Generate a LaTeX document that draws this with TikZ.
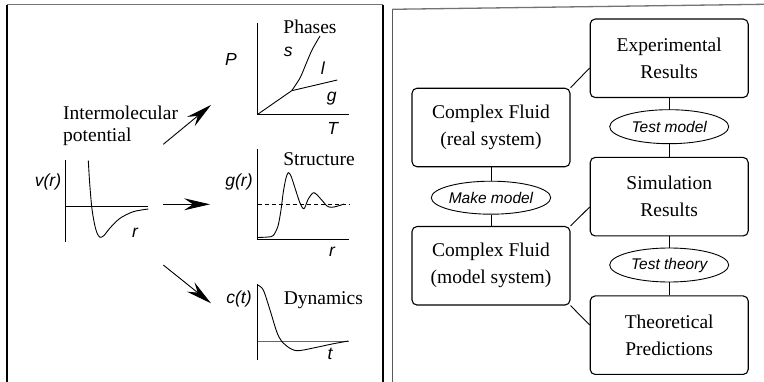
\documentclass[tikz,border=0pt]{standalone}
\usepackage{fontspec}
\setmainfont{Liberation Serif}
\newfontfamily\labfont{Liberation Sans}
\usetikzlibrary{arrows.meta,shapes.geometric}
\begin{document}
\begin{tikzpicture}[x=1pt,y=-1pt,
  ax/.style={line width=1pt},
  crv/.style={line width=0.9pt},
  lab/.style={font=\labfont\itshape\fontsize{17.5}{20}\selectfont, inner sep=0},
  ttl/.style={font=\fontsize{19.5}{22}\selectfont, inner sep=0},
  bigarrow/.style={line width=0.9pt, -{Stealth[length=26pt,width=12pt,inset=9pt]}},
  box/.style={draw, line width=1.1pt, rounded corners=5pt, minimum width=158pt, minimum height=78.5pt, align=center, font=\fontsize{19.5}{27}\selectfont, inner sep=0},
  oval/.style={draw, ellipse, line width=0.9pt, minimum width=119pt, minimum height=34pt, inner sep=0, font=\labfont\itshape\fontsize{15.5}{18}\selectfont},
  conn/.style={line width=0.9pt}]
\useasboundingbox (0,0) rectangle (764,382);
% frames
\draw[line width=1.6pt] (7,382) -- (7,4.7);
\draw[line width=1.3pt, black!55] (7,4.7) -- (383,4.7);
\draw[line width=1.6pt] (383,4.7) -- (383,382);
\draw[line width=1.3pt, black!65] (392.3,382) -- (392.3,9.3);
\draw[line width=1.3pt, black!55] (392.3,9.3) -- (764,4.3);

% ---- left panel ----
\node[ttl, anchor=west, align=left, font=\fontsize{19.5}{22}\selectfont] (ip) at (63,126) {Intermolecular\\potential};

% v(r)
\draw[ax] (65,160) -- (65,241.7);
\draw[ax] (65,206.7) -- (148.3,206.7);
\draw[crv] plot[smooth] coordinates {(88.3,160.7) (89.6,182) (91.7,206.7) (94.3,223) (97,233) (100,237.3) (104,235.5) (110,228) (120,218.3) (133.3,211.7) (148.3,209)};
\node[lab] (vr) at (48,182) {v(r)};
\node[lab] (rr1) at (135,233) {r};

% arrows
\coordinate (a1s) at (163.3,144.3);
\coordinate (a1e) at (211,105);
\coordinate (a2s) at (163.3,204.3);
\coordinate (a2e) at (210,204.3);
\coordinate (a3s) at (163.3,265);
\coordinate (a3e) at (211,303.3);
\draw[bigarrow] (a1s) -- (a1e);
\draw[bigarrow] (a2s) -- (a2e);
\draw[bigarrow] (a3s) -- (a3e);

% Phases
\draw[ax] (257.7,23.3) -- (257.7,114.3) -- (349.3,114.3);
\draw[crv] (257.7,114.3) -- (291.7,90.7);
\draw[crv] plot[smooth] coordinates {(291.7,90.7) (300,78) (306,64) (312,50) (320,36)};
\draw[crv] (291.7,90.7) -- (337.3,80);
\node[ttl] (ph) at (310,26.7) {Phases};
\node[lab] (P) at (231,59) {P};
\node[lab] (s) at (288.3,52.3) {s};
\node[lab] (l) at (322.7,68.3) {l};
\node[lab] (g) at (331.7,98.3) {g};
\node[lab] (T) at (332.7,128.3) {T};

% Structure
\draw[ax] (257.7,149.3) -- (257.7,239.3) -- (349.3,239.3);
\draw[crv, dashed, dash pattern=on 4pt off 3pt] (257.7,204.7) -- (349.3,204.7);
\draw[crv] plot[smooth] coordinates {(257.7,237.5) (268,237) (273.3,235.5) (278,226) (281,210) (283.3,192) (286,178) (288.3,172.7) (291,176) (295,188) (300,203) (304,208.7) (308.3,199) (314,192.7) (321.7,200) (327,206) (331.7,207.3) (338,206) (344,204)};
\node[ttl] (st) at (319,159) {Structure};
\node[lab] (gr) at (239,182) {g(r)};
\node[lab] (rr2) at (332,252) {r};

% Dynamics
\draw[ax] (257.7,284) -- (257.7,360);
\draw[line width=1.5pt, black!60] (257.7,341.5) -- (349.3,341.5);
\draw[crv] plot[smooth] coordinates {(257.7,285) (263.3,290) (270,310) (276.7,331.7) (281.7,341.3) (290,348.3) (298.3,350.7) (316.7,347.3) (332,344) (348.3,341)};
\node[lab] (ct) at (239,299) {c(t)};
\node[ttl] (dy) at (323.3,300) {Dynamics};
\node[lab] (t) at (330,354) {t};

% ---- right panel ----
\node[box] (exp) at (669.2,58.3) {Experimental\\Results};
\node[box] (cr) at (491,127.5) {Complex Fluid\\(real system)};
\node[box] (sim) at (669.2,196.7) {Simulation\\Results};
\node[box] (cm) at (491,265.8) {Complex Fluid\\(model system)};
\node[box] (theo) at (669.2,335.2) {Theoretical\\Predictions};
\node[oval] (tm) at (669.2,126.7) {Test model};
\node[oval, minimum width=118pt, minimum height=33pt] (mm) at (491,197.7) {Make model};
\node[oval] (tt) at (669.2,265) {Test theory};

\draw[conn] (exp.south) -- (tm.north);
\draw[conn] (tm.south) -- (sim.north);
\draw[conn] (sim.south) -- (tt.north);
\draw[conn] (tt.south) -- (theo.north);
\draw[conn] (cr.south) -- (mm.north);
\draw[conn] (mm.south) -- (cm.north);
\draw[conn] (cr.north east) -- ([yshift=-9.7pt]exp.west);
\draw[conn] (cm.north east) -- ([yshift=-10.3pt]sim.west);
\draw[conn] (cm.south east) -- ([yshift=10.2pt]theo.west);
\end{tikzpicture}
\end{document}
